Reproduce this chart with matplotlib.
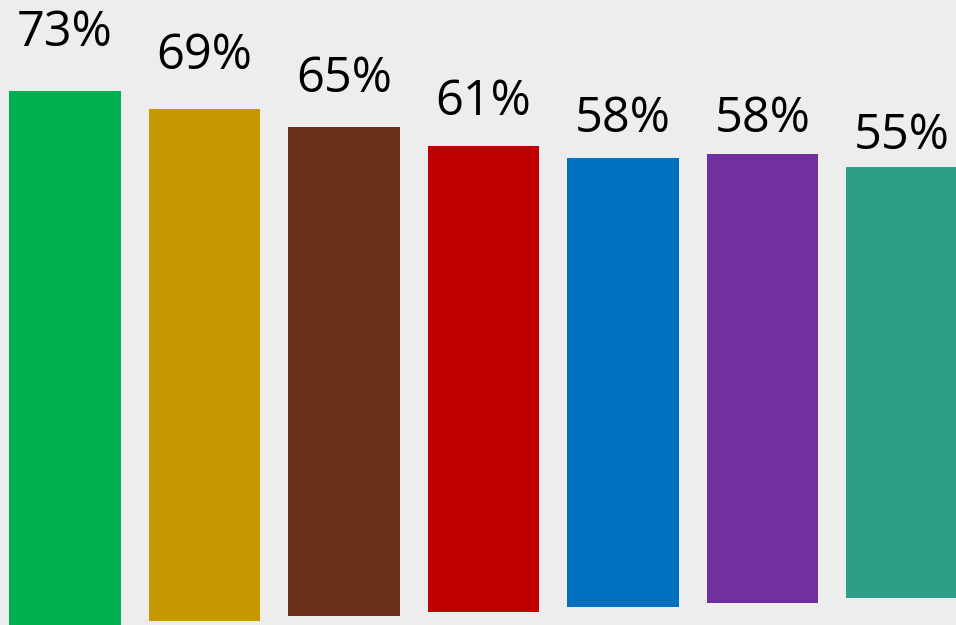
import matplotlib.pyplot as plt
import numpy as np

# values
values = [73, 69, 65, 61, 58, 58, 55]
labels = [f"{v}%" for v in values]
colors = ["#00b050", "#c89800", "#6a321a", "#c00000", "#0070c0", "#7030a0", "#2f9e88"]

# the picture's baseline is not at zero and drifts up a little to the right
base = -20.44
skew = 0.78
label_pad = 10.0

plt.rcParams["font.family"] = ["Open Sans", "DejaVu Sans"]

fig = plt.figure(figsize=(9.56, 6.25), dpi=100, facecolor="#ededed")
ax = fig.add_axes([0, 0, 1, 1])
ax.set_facecolor("#ededed")

x = np.arange(len(values))
bottoms = base + skew * x
ax.bar(x, np.array(values) - base, bottom=bottoms, width=0.796, color=colors, linewidth=0)

for xi, v, lab in zip(x, values, labels):
    ax.text(xi, v + label_pad, lab, ha="center", va="center", fontsize=35, color="black")

ax.set_xlim(-0.466, 6.387)
ax.set_ylim(base, 88.83)
ax.axis("off")

fig.savefig("out.png", dpi=100, facecolor=fig.get_facecolor())
